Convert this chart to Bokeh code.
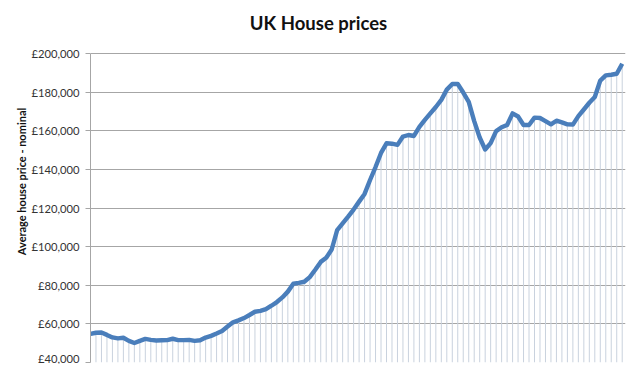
from bokeh.plotting import figure
from bokeh.models import Range1d, FixedTicker, CustomJSTickFormatter, Label
from bokeh.embed import file_html
from bokeh.resources import INLINE

# Quarterly average UK house price (nominal, GBP thousands)
prices_k = [
    54.8, 55.4, 55.5, 54.3, 53.0, 52.5, 52.8, 51.2, 50.1, 51.2,
    52.2, 51.7, 51.4, 51.5, 51.6, 52.3, 51.6, 51.6, 51.7, 51.2,
    51.5, 52.9, 53.8, 55.0, 56.3, 58.6, 60.8, 61.8, 63.0, 64.6,
    66.3, 66.7, 67.6, 69.4, 71.3, 73.7, 76.7, 80.8, 81.2, 81.8,
    84.2, 88.0, 92.1, 94.2, 98.5, 108.5, 112.0, 115.5, 119.2, 123.3,
    127.3, 134.5, 141.2, 148.5, 153.5, 153.3, 152.7, 157.0, 157.8, 157.3,
    162.0, 165.6, 169.0, 172.3, 176.0, 181.3, 184.2, 184.2, 179.8, 175.0,
    165.0, 156.5, 150.3, 153.6, 159.8, 161.8, 163.0, 169.0, 167.4, 163.0,
    163.0, 166.8, 166.6, 165.0, 163.3, 165.2, 164.3, 163.3, 163.2, 167.6,
    171.0, 174.5, 177.5, 186.0, 188.7, 189.0, 189.5, 194.7,
]
y_ticks = [40000, 60000, 80000, 100000, 120000, 140000, 160000, 180000, 200000]
title_text = "UK House prices"
y_label = "Average house price - nominal"

quarters = list(range(len(prices_k)))
prices = [v * 1000 for v in prices_k]

# frame spans the full height; the space above £200,000 holds the title
px_per_unit = 309 / (y_ticks[-1] - y_ticks[0])
y_top = y_ticks[-1] + 53 / px_per_unit
p = figure(width=632, height=364, output_backend="svg", toolbar_location=None,
           x_range=Range1d(0, 97.6), y_range=Range1d(y_ticks[0], y_top),
           min_border_left=90, min_border_right=7, min_border_top=0,
           min_border_bottom=2)

p.outline_line_color = None
p.background_fill_color = "white"
p.border_fill_color = "white"

# drop lines
p.segment(x0=quarters, y0=[y_ticks[0]] * len(quarters), x1=quarters, y1=prices,
          line_color="#c9d2de", line_width=1)
p.line(quarters, prices, line_color="#4a7ebb", line_width=4.4, line_join="round")

# chart title, centred on the whole chart, above the plot area
p.add_layout(Label(x=(318 - 90) / 535 * 97.6, y=y_ticks[-1] + 31 / px_per_unit,
                   text=title_text,
                   text_align="center", text_baseline="middle",
                   text_font="Lato", text_font_size="18.5px",
                   text_font_style="bold", text_color="#111111"))

p.xaxis.visible = False
p.xgrid.visible = False
p.ygrid.ticker = FixedTicker(ticks=y_ticks)
p.ygrid.grid_line_color = "#a6a6a6"
p.ygrid.grid_line_width = 1

ax = p.yaxis[0]
ax.ticker = FixedTicker(ticks=y_ticks)
ax.bounds = (y_ticks[0], y_ticks[-1])
ax.formatter = CustomJSTickFormatter(code="return '£' + tick.toLocaleString('en-GB');")
ax.major_label_text_font = "Lato"
ax.major_label_text_font_size = "11.2px"
ax.major_label_text_color = "#333333"
ax.major_label_standoff = 6
ax.major_tick_out = 5
ax.major_tick_in = 0
ax.minor_tick_out = 0
ax.minor_tick_in = 0
ax.major_tick_line_color = "#a6a6a6"
ax.axis_line_color = "#a6a6a6"
ax.axis_label = y_label
ax.axis_label_text_font = "Lato"
ax.axis_label_text_font_size = "11px"
ax.axis_label_text_font_style = "bold"
ax.axis_label_text_color = "#111111"
ax.axis_label_standoff = 1

open("out.html", "w").write(file_html(p, INLINE))
